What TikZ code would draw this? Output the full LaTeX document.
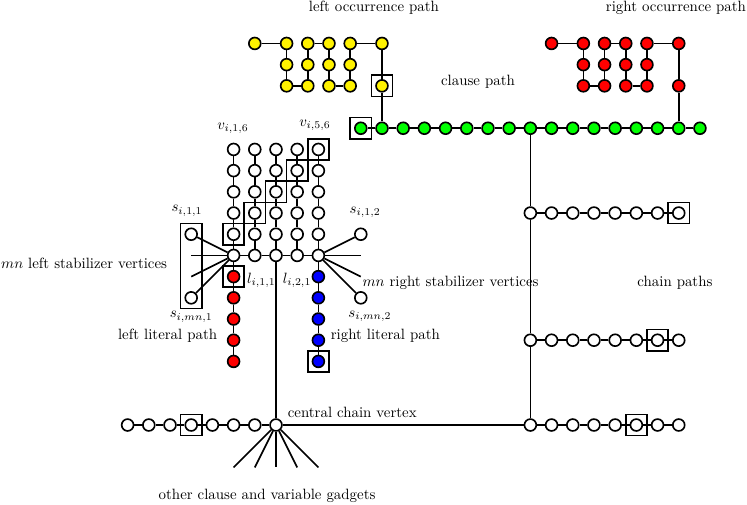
\documentclass[tikz,border=0pt]{standalone}
\begin{document}
\begin{tikzpicture}[x=0.5cm,y=0.5cm]
    \tikzstyle{every path}=[line width=1.1pt];
    \tikzstyle{vertex}=[draw,shape=circle,fill=white,minimum size=2.8mm,inner sep=0pt];
    \tikzstyle{boxed}=[draw,shape=rectangle,minimum size=5mm,inner sep=0pt];
    \tikzstyle{txt}=[inner sep=0pt];
    \useasboundingbox (-13.02,-3.73) rectangle (22.22,20.05);

    % variable gadget
    \foreach \j/\x in {1/-2,2/-1,3/0,4/1,5/2} {
      \foreach \k in {1,...,6}
        \node[vertex] at (\x,7+\k) (v\j\k) {};
      \draw (v\j1) -- (v\j2) -- (v\j3) -- (v\j4) -- (v\j5) -- (v\j6);
    }
    \draw (v11) -- (v21) -- (v31) -- (v41) -- (v51);

    % literal paths
    \foreach \k in {1,...,5} {
      \node[vertex,fill=red] at (-2,8-\k) (r\k) {};
      \node[vertex,fill=blue] at (2,8-\k) (b\k) {};
    }
    \draw (v11) -- (r1) -- (r2) -- (r3) -- (r4) -- (r5);
    \draw (v51) -- (b1) -- (b2) -- (b3) -- (b4) -- (b5);

    % stabilizers
    \node[vertex] at (-4,9) (sl1) {};
    \node[vertex] at (-4,6) (slmn) {};
    \coordinate (sla) at (-4,8);
    \coordinate (slb) at (-4,7);
    \node[vertex] at (4,9) (sr1) {};
    \node[vertex] at (4,6) (srmn) {};
    \coordinate (sra) at (4,8);
    \coordinate (srb) at (4,7);
    \draw (v11) -- (sl1);
    \draw (v11) -- (sla);
    \draw (v11) -- (slb);
    \draw (v11) -- (slmn);
    \draw (v51) -- (sr1);
    \draw (v51) -- (sra);
    \draw (v51) -- (srb);
    \draw (v51) -- (srmn);

    % clause path
    \foreach \x in {4,...,20}
      \node[vertex,fill=green] at (\x,14) (g\x) {};
    \foreach \x [remember=\x as \lx (initially 4)] in {5,...,20}
      \draw (g\lx) -- (g\x);

    % occurrence paths
    \foreach \x/\y [count=\i] in {-1/18,0.5/18,0.5/17,0.5/16,1.5/16,1.5/17,1.5/18,2.5/18,2.5/17,2.5/16,3.5/16,3.5/17,3.5/18,5/18,5/16} {
      \node[vertex,fill=yellow] at (\x,\y) (lo\i) {};
      \node[vertex,fill=red] at (\x+14,\y) (ro\i) {};
    }
    \foreach \i [remember=\i as \li (initially 1)] in {2,...,15} {
      \draw (lo\li) -- (lo\i);
      \draw (ro\li) -- (ro\i);
    }
    \draw (lo15) -- (g5);
    \draw (ro15) -- (g19);

    % chain paths
    \foreach \x in {12,...,19} {
      \node[vertex] at (\x,10) (h\x) {};
      \node[vertex] at (\x,4) (k\x) {};
      \node[vertex] at (\x,0) (m\x) {};
    }
    \foreach \x [remember=\x as \lx (initially 12)] in {13,...,19} {
      \draw (h\lx) -- (h\x);
      \draw (k\lx) -- (k\x);
      \draw (m\lx) -- (m\x);
    }
    \node[vertex] at (0,0) (cc) {};
    \foreach \i in {1,...,7}
      \node[vertex] at (\i-8,0) (w\i) {};
    \draw (w1) -- (w2) -- (w3) -- (w4) -- (w5) -- (w6) -- (w7) -- (cc);
    \draw (v31) -- (cc);
    \draw (cc) -- (m12);
    \draw (g12) -- (h12) -- (k12) -- (m12);
    \foreach \x in {-2,...,2} {
      \coordinate (d\x) at (\x,-2);
      \draw (cc) -- (d\x);
    }

    % boxes
    \node[boxed] at (lo15) (x1) {};
    \node[boxed] at (g4) (x2) {};
    \node[boxed] at (v12) (x3) {};
    \node[boxed] at (v23) (x4) {};
    \node[boxed] at (v34) (x5) {};
    \node[boxed] at (v45) (x6) {};
    \node[boxed] at (v56) (x7) {};
    \node[boxed] at (r1) (x8) {};
    \node[boxed] at (b5) (x9) {};
    \node[boxed] at (w4) (x10) {};
    \node[boxed] at (h19) (x11) {};
    \node[boxed] at (k18) (x12) {};
    \node[boxed] at (m17) (x13) {};
    \node[boxed,minimum height=2cm] at (-4,7.5) (x14) {};

    % labels
    \node[txt] at (4.62,19.67) (tlo) {left occurrence path};
    \node[txt] at (18.87,19.67) (tro) {right occurrence path};
    \node[txt] at (9.53,16.18) (tcl) {clause path};
    \node[txt] at (-2.03,14.0) (tv16) {$v_{i,1,6}$};
    \node[txt] at (1.84,14.15) (tv56) {$v_{i,5,6}$};
    \node[txt] at (-4.2,10.1) (ts11) {$s_{i,1,1}$};
    \node[txt] at (-4.0,5.1) (tsmn1) {$s_{i,mn,1}$};
    \node[txt] at (4.2,10.05) (ts12) {$s_{i,1,2}$};
    \node[txt] at (4.43,5.14) (tsmn2) {$s_{i,mn,2}$};
    \node[txt,anchor=east] at (-5.1,7.64) (tsl) {$mn$ left stabilizer vertices};
    \node[txt,anchor=west] at (4.05,6.7) (tsr) {$mn$ right stabilizer vertices};
    \node[txt,anchor=west] at (-1.4,6.84) (tl11) {$l_{i,1,1}$};
    \node[txt,anchor=east] at (1.7,6.84) (tl21) {$l_{i,2,1}$};
    \node[txt,anchor=east] at (-2.74,4.2) (tll) {left literal path};
    \node[txt,anchor=west] at (2.55,4.2) (trl) {right literal path};
    \node[txt,anchor=west] at (0.52,0.61) (tcc) {central chain vertex};
    \node[txt] at (-0.42,-3.35) (tog) {other clause and variable gadgets};
    \node[txt] at (18.82,6.7) (tch) {chain paths};
\end{tikzpicture}
\end{document}
